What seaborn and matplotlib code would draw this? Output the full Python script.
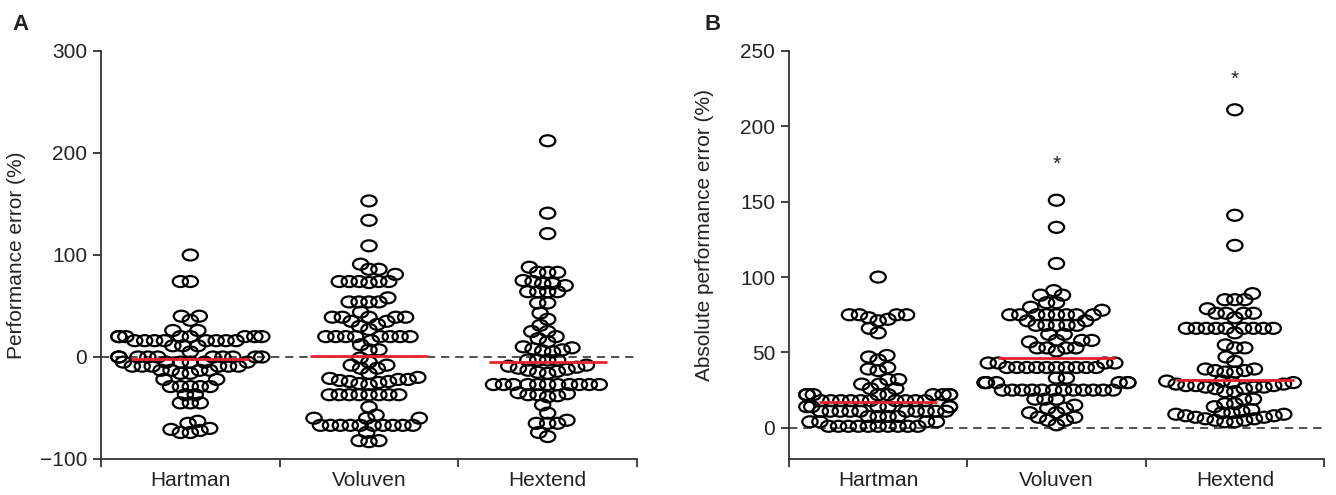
import matplotlib
matplotlib.use("Agg")
import numpy as np
import pandas as pd
import matplotlib.pyplot as plt
import seaborn as sns
from matplotlib.path import Path
from matplotlib.transforms import Affine2D
from matplotlib.ticker import FixedLocator

groups = ["Hartman", "Voluven", "Hextend"]

# Panel A: performance error (%)
pe_hartman = [100, 74, 74, 40, 40, 36, 26, 26,
              20, 20, 20, 20, 20, 20, 20, 20,
              16, 16, 16, 16, 16, 16, 16, 16,
              11, 11, 11, 5,
              0, 0, 0, 0, 0, 0, 0, 0, 0, 0,
              -5, -5, -5, -5, -5, -5,
              -9, -9, -9, -9, -9, -9,
              -13, -13, -13, -13, -16, -16, -22, -22,
              -29, -29, -29, -29, -29, -37, -37, -45, -45, -45,
              -63, -65, -70, -72, -74, -74, -71]
pe_voluven = [153, 134, 109, 91, 86, 86, 81,
              74, 74, 74, 74, 74, 73, 58, 54, 54, 54, 54, 44,
              39, 39, 39, 39, 39, 35, 35, 32, 30, 27,
              20, 20, 20, 20, 20, 20, 20, 20, 16, 12, 7, 7,
              -1, -5, -8, -8, -11, -11, -16,
              -20, -21, -22, -23, -24, -25, -26, -27, -22, -24,
              -37, -37, -37, -37, -37, -37, -37, -37,
              -49, -57, -60, -60, -60,
              -67, -67, -67, -67, -67, -67, -67, -67, -67, -67,
              -74, -82, -83, -82]
pe_hextend = [212, 141, 121, 88, 83, 83, 83, 75, 74, 72, 72, 70,
              64, 64, 64, 64, 53, 53, 43, 37, 31, 25, 25, 20, 18, 15,
              10, 9, 8, 7, 6, 5, -3, -3, -3, -3,
              -8, -9, -10, -11, -12, -13, -14, -15, -16,
              -27, -27, -27, -27, -27, -27, -27, -27, -27, -27, -27,
              -35, -36, -37, -38, -39, -37,
              -47, -55, -62, -65, -65, -65, -74, -78]

# Panel B: absolute performance error (%)
ape_hartman = [100, 75, 75, 75, 75, 73, 72, 71, 66, 63,
               48, 47, 45, 40, 39, 38, 32, 32, 29, 29, 26, 26,
               22, 22, 22, 22, 22, 22, 22, 22, 22, 22,
               18, 18, 18, 18, 18, 18, 18, 18, 18, 18,
               14, 14, 14, 14, 14, 14,
               11, 11, 11, 11, 11, 11, 11, 11, 11, 11,
               7.5, 7.5, 7.5, 7.5, 4, 4, 4, 4,
               1, 1, 1, 1, 1, 1, 1, 1, 1, 1]
ape_voluven = [151, 133, 109, 91, 88, 88, 83, 83, 80, 78,
               75, 75, 75, 75, 75, 75, 75, 75, 71, 71,
               68, 68, 68, 68, 68, 62, 62, 58, 58, 58, 57,
               53, 53, 53, 53, 51, 43, 43, 43, 43,
               40, 40, 40, 40, 40, 40, 40, 40, 40, 40,
               33, 33, 30, 30, 30, 30, 30, 30, 30,
               25, 25, 25, 25, 25, 25, 25, 25, 25, 25, 25, 25,
               19, 19, 19, 15, 13, 13, 10, 10, 7, 7, 5, 5, 2]
ape_hextend = [211, 141, 121, 89, 85, 85, 85, 79, 76, 76, 76, 76, 73,
               66, 66, 66, 66, 66, 66, 66, 66, 66, 63, 55, 53, 53, 47, 44,
               39, 39, 38, 38, 37, 37,
               31, 31, 30, 30, 29, 29, 28, 28, 28, 27, 27, 26, 26, 27,
               24, 24, 19, 19, 16, 16, 14,
               12, 11, 10, 9, 8, 7, 6, 5, 4, 4, 5, 6, 7, 8, 9, 10]

median_pe = [-2, 1, -5]
median_ape = [17, 46.5, 32]
star_groups = [1, 2]
star_values = [175, 231]

sns.set_theme(style="ticks")
plt.rcParams["font.family"] = ["Liberation Sans", "DejaVu Sans"]
TXT = "#222222"

fig = plt.figure(figsize=(13.36, 4.95), dpi=100)
axA = fig.add_axes([101 / 1336, 36 / 495, 536 / 1336, 408 / 495])
axB = fig.add_axes([789 / 1336, 36 / 495, 535 / 1336, 408 / 495])

ell = Path.unit_circle().transformed(Affine2D().scale(1.0, 0.72))


def panel(ax, series, ylim, yticks, ylabel, medians, label_y):
    ax.set_xlim(-0.5, 2.5)
    ax.set_ylim(*ylim)
    df = pd.DataFrame({
        "group": np.repeat(groups, [len(s) for s in series]),
        "value": np.concatenate([np.asarray(s, float) for s in series]),
    })
    before = list(ax.collections)
    sns.swarmplot(data=df, x="group", y="value", order=groups, ax=ax,
                  color="black", edgecolor="black", size=5.8, linewidth=1.0,
                  marker=ell, warn_thresh=1.0)
    ax.set_xlim(-0.5, 2.5)
    ax.set_ylim(*ylim)
    for c in ax.collections:
        if c in before:
            continue
        if "draw" in c.__dict__:
            del c.draw
        c.set_sizes([11.0 ** 2])
        c.set_facecolor("none")
        c.set_edgecolor("black")
        c.set_linewidth(1.6)
        c.set_zorder(3)
    ax.axhline(0, color="#333333", lw=1.2, ls=(0, (5, 3.5)), zorder=1)
    xs = np.arange(len(groups))
    ax.hlines(medians, xs - 0.33, xs + 0.33, color="#e8212b", lw=2.0, zorder=4)

    ax.set_xticks(xs)
    ax.set_xticklabels(groups)
    ax.xaxis.set_minor_locator(FixedLocator([-0.5, 0.5, 1.5, 2.5]))
    ax.set_yticks(yticks)
    ax.tick_params(axis="x", which="major", length=0, pad=9, labelsize=15,
                   labelcolor=TXT)
    ax.tick_params(axis="x", which="minor", length=6, width=1.3,
                   direction="out", color="#333333")
    ax.tick_params(axis="y", length=6, width=1.3, pad=4, labelsize=15,
                   labelcolor=TXT, color="#333333")
    ax.set_xlabel("")
    ax.set_ylabel(ylabel, fontsize=15, color=TXT)
    ax.yaxis.set_label_coords(-0.14, label_y)
    sns.despine(ax=ax)
    for sp in ("left", "bottom"):
        ax.spines[sp].set_color("#333333")
        ax.spines[sp].set_linewidth(1.3)


panel(axA, [pe_hartman, pe_voluven, pe_hextend], (-100, 300),
      [-100, 0, 100, 200, 300], "Performance error (%)", median_pe, 0.5)
panel(axB, [ape_hartman, ape_voluven, ape_hextend], (-20.7, 250),
      [0, 50, 100, 150, 200, 250], "Absolute performance error (%)",
      median_ape, 0.55)

for g, v in zip(star_groups, star_values):
    axB.text(g, v, "*", ha="center", va="center", fontsize=15, color=TXT)

fig.text(12 / 1336, 1 - 24 / 495, "A", fontsize=16, fontweight="bold",
         color=TXT, va="center", ha="left")
fig.text(705 / 1336, 1 - 24 / 495, "B", fontsize=16, fontweight="bold",
         color=TXT, va="center", ha="left")

fig.savefig("out.png", dpi=100)
